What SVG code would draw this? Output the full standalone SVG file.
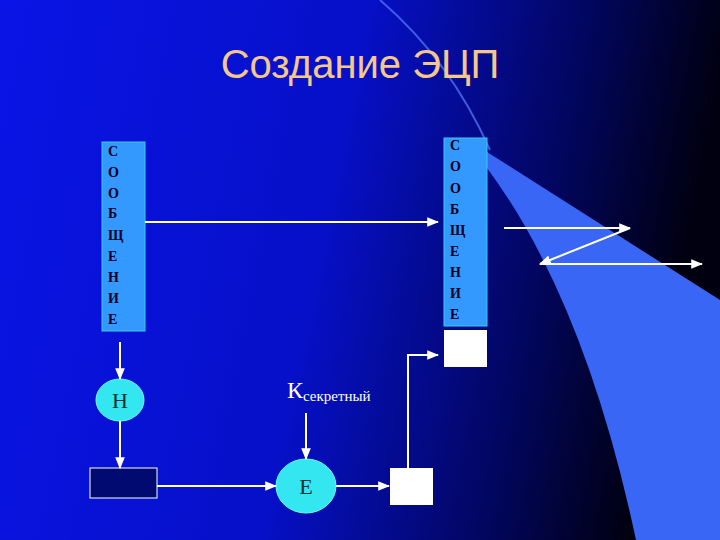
<svg xmlns="http://www.w3.org/2000/svg" width="720" height="540" viewBox="0 0 720 540">
<defs>
<linearGradient id="bg" x1="0" y1="0" x2="1" y2="0.15">
<stop offset="0" stop-color="#0a14e6"/><stop offset="0.5" stop-color="#0610c8"/><stop offset="0.8" stop-color="#020660"/><stop offset="1" stop-color="#000010"/>
</linearGradient>
<marker id="ah" viewBox="0 0 10 10" refX="9" refY="5" markerWidth="6" markerHeight="6" orient="auto"><path d="M0,1 L10,5 L0,9 z" fill="#fff"/></marker>
<style>
.ln{stroke:#fff;stroke-width:2;fill:none}
.msg{fill:#3399ff;stroke:#33ccff;stroke-width:1}
.lt{font-family:"Liberation Serif",serif;font-weight:bold;font-size:14px;fill:#000022}
.el{fill:#33e6f0;stroke:#66ffff}
.ser{font-family:"Liberation Serif",serif;font-size:22px;fill:#003030}
</style>
</defs>
<rect width="720" height="540" fill="url(#bg)"/>
<path d="M380,0 Q450,60 490,150" fill="none" stroke="#5a7cff" stroke-width="2" opacity="0.7"/>
<path d="M487,152 L720,300 L720,540 L636,540 Q585,300 487,168 Z" fill="#3a66f5"/>
<g id="msg1"><rect class="msg" x="102" y="142" width="43" height="189"/>
<text class="lt" x="108" y="156">С</text><text class="lt" x="108" y="177">О</text><text class="lt" x="108" y="198">О</text><text class="lt" x="108" y="218">Б</text><text class="lt" x="108" y="240">Щ</text><text class="lt" x="108" y="261">Е</text><text class="lt" x="108" y="282">Н</text><text class="lt" x="108" y="303">И</text><text class="lt" x="108" y="324">Е</text></g>
<g id="msg2"><rect class="msg" x="444" y="138" width="43" height="188"/>
<text class="lt" x="450" y="150">С</text><text class="lt" x="450" y="171">О</text><text class="lt" x="450" y="193">О</text><text class="lt" x="450" y="214">Б</text><text class="lt" x="450" y="235">Щ</text><text class="lt" x="450" y="256">Е</text><text class="lt" x="450" y="277">Н</text><text class="lt" x="450" y="298">И</text><text class="lt" x="450" y="319">Е</text></g>
<g id="sig2"><rect x="444" y="330" width="43" height="37" fill="#fff"/></g>
<g id="hash"><ellipse class="el" cx="120" cy="400" rx="24" ry="21"/><text class="ser" x="120" y="408" text-anchor="middle">Н</text></g>
<g id="digest"><rect x="90" y="468" width="67" height="30" fill="#000a70" stroke="#fff"/></g>
<g id="key"><text font-family="Liberation Serif,serif" fill="#fff" x="287" y="398"><tspan font-size="24">К</tspan><tspan font-size="15" dy="3">секретный</tspan></text></g>
<g id="enc"><ellipse class="el" cx="306" cy="486" rx="30" ry="27"/><text class="ser" x="306" y="494" text-anchor="middle">Е</text></g>
<g id="sig"><rect x="390" y="468" width="43" height="37" fill="#fff"/></g>
<text x="360" y="78" text-anchor="middle" font-family="Liberation Sans,sans-serif" font-size="40" fill="#f5c78a">Создание ЭЦП</text>
<g id="connectors">
<line class="ln" x1="145" y1="222" x2="438" y2="222" marker-end="url(#ah)"/>
<line class="ln" x1="120" y1="342" x2="120" y2="379" marker-end="url(#ah)"/>
<line class="ln" x1="120" y1="421" x2="120" y2="468" marker-end="url(#ah)"/>
<line class="ln" x1="157" y1="486" x2="276" y2="486" marker-end="url(#ah)"/>
<line class="ln" x1="306" y1="413" x2="306" y2="459" marker-end="url(#ah)"/>
<line class="ln" x1="336" y1="486" x2="389" y2="486" marker-end="url(#ah)"/>
<path class="ln" d="M408,468 L408,355 L438,355" marker-end="url(#ah)"/>
<line class="ln" x1="504" y1="228" x2="630" y2="228" marker-end="url(#ah)"/>
<line class="ln" x1="630" y1="228" x2="540" y2="264" marker-end="url(#ah)"/>
<line class="ln" x1="540" y1="264" x2="702" y2="264" marker-end="url(#ah)"/>
</g>
</svg>
